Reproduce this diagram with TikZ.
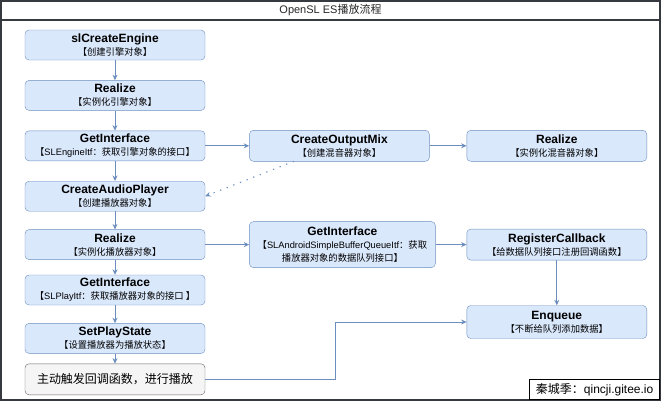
\documentclass[tikz,border=0pt]{standalone}
\usepackage{fontspec}
\setmainfont{Liberation Sans}
\newfontfamily\cjk{Noto Sans CJK SC}
\usepackage{tikz}
\usetikzlibrary{positioning,arrows.meta}

\definecolor{boxfill}{HTML}{DAE8FC}
\definecolor{boxline}{HTML}{6C8EBF}
\definecolor{greyfill}{HTML}{F5F5F5}
\definecolor{greyline}{HTML}{666666}
\definecolor{framecol}{HTML}{36393D}

\newcommand{\zhs}[1]{{\cjk #1}}
\newcommand{\subline}[1]{{\fontsize{9.3}{11}\selectfont\mdseries #1}}

\begin{document}
\begin{tikzpicture}[
			x=1pt, y=-1pt,
			node distance=20pt and 44pt,
			box/.style={
				draw=boxline,
				fill=boxfill,
				rounded corners=4pt,
				align=center,
				font=\fontsize{12}{13}\selectfont\bfseries,
				minimum width=180pt,
				minimum height=30pt,
				inner sep=1pt
			},
			plain/.style={box,draw=greyline,fill=greyfill,font=\fontsize{12}{14}\selectfont},
			arrow/.style={-{Stealth[length=5.5pt,width=5pt]},draw=boxline,line width=0.8pt}
			]
			
			\useasboundingbox (0,0) rectangle (662,402);
			\draw[framecol,line width=1.2pt] (1,1) rectangle (660,400);
			\draw[framecol,line width=1.2pt] (1,20) -- (660,20);
			\node[font=\fontsize{11}{13}\selectfont,text=black!85] (title) at (330.5,10.5) {OpenSL ES\zhs{播放流程}};
			
			% engine / player chain
			\node[box] (engine) at (115,45) {slCreateEngine\\\subline{\zhs{【创建引擎对象】}}};
			\node[box,below=of engine] (realizeE) {Realize\\\subline{\zhs{【实例化引擎对象】}}};
			\node[box,below=of realizeE] (engItf) {GetInterface\\\subline{\zhs{【}SLEngineItf\zhs{：获取引擎对象的接口】}}};
			\node[box,below=of engItf] (player) {CreateAudioPlayer\\\subline{\zhs{【创建播放器对象】}}};
			\node[box,below=18pt of player] (realizeP) {Realize\\\subline{\zhs{【实例化播放器对象】}}};
			\node[box,below=15pt of realizeP] (playItf) {GetInterface\\\subline{\zhs{【}SLPlayItf\zhs{：获取播放器对象的接口 】}}};
			\node[box,below=18pt of playItf] (playState) {SetPlayState\\\subline{\zhs{【设置播放器为播放状态】}}};
			\node[plain,below=10pt of playState,minimum height=31pt] (tail) {\zhs{主动触发回调函数，进行播放}};
			
			% output mix
			\node[box,right=of engItf,minimum height=31pt] (mix) {CreateOutputMix\\\subline{\zhs{【创建混音器对象】}}};
			\node[box,right=37pt of mix,minimum height=31pt] (mixRealize) {Realize\\\subline{\zhs{【实例化混音器对象】}}};
			
			% buffer queue
			\node[box,right=of realizeP,minimum width=186pt,minimum height=46pt] (bufItf) {GetInterface\\\subline{\zhs{【}SLAndroidSimpleBufferQueueItf\zhs{：获取}}\\\subline{\zhs{播放器对象的数据队列接口】}}};
			\node[box,right=31pt of bufItf,minimum height=31pt] (callback) {RegisterCallback\\\subline{\zhs{【给数据队列接口注册回调函数】}}};
			\node[box,below=45pt of callback,minimum height=33pt] (enqueue) {Enqueue\\\subline{\zhs{【不断给队列添加数据】}}};
			
			\node[draw=black,line width=0.8pt,anchor=south east,minimum width=130pt,minimum height=20pt,inner sep=1pt,font=\fontsize{12}{14}\selectfont] (sign) at (660,400) {\zhs{秦城季：}qincji.gitee.io};
			
			\draw[arrow] (engine)--(realizeE);
			\draw[arrow] (realizeE)--(engItf);
			\draw[arrow] (engItf)--(player);
			\draw[arrow] (player)--(realizeP);
			\draw[arrow] (realizeP)--(playItf);
			\draw[arrow] (playItf)--(playState);
			\draw[arrow] (playState)--(tail);
			
			\draw[arrow] (engItf)--(mix);
			\draw[arrow] (mix)--(mixRealize);
			\draw[arrow,line width=1.6pt,line cap=round,dash pattern=on 0.1pt off 7pt] ([xshift=-46pt]mix.south)--(player.east);
			
			\draw[arrow] (realizeP)--(bufItf);
			\draw[arrow] (bufItf)--(callback);
			\draw[arrow] (callback)--(enqueue);
			
			\coordinate (kink) at (335,0);
			\draw[arrow] (tail.east) -| (kink |- enqueue.west) -- (enqueue.west);
			
		\end{tikzpicture}
\end{document}
